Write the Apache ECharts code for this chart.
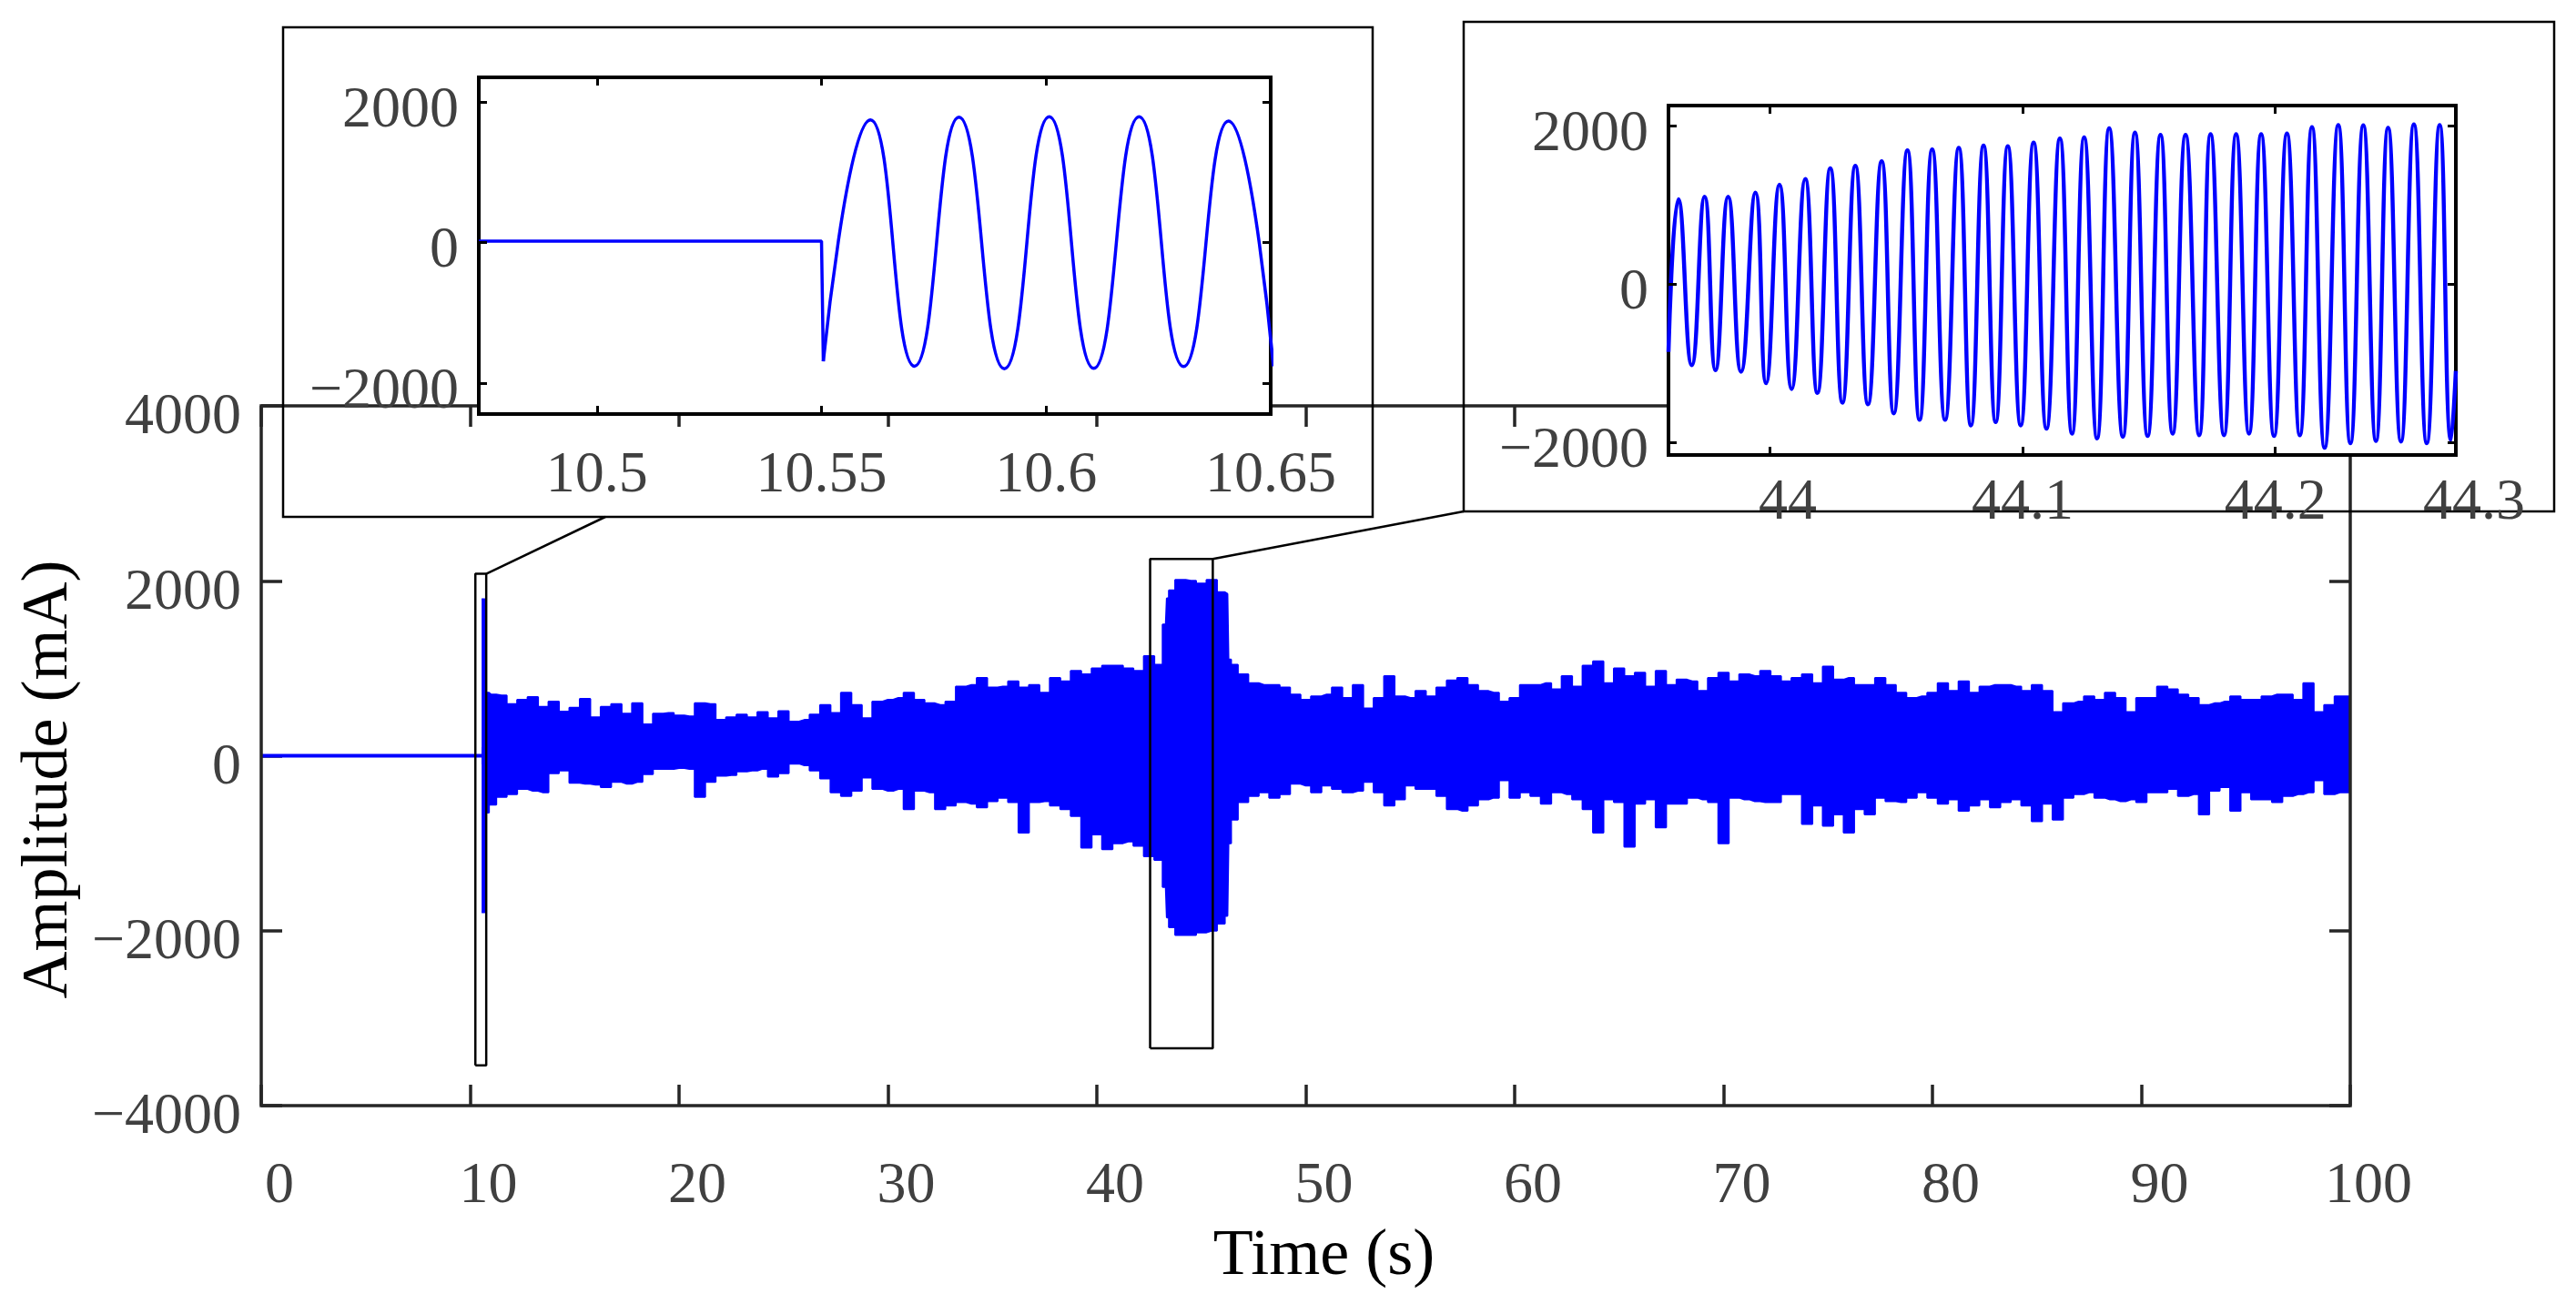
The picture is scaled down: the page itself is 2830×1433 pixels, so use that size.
<!DOCTYPE html>
<html>
<head>
<meta charset="utf-8">
<script src="https://cdn.jsdelivr.net/npm/echarts@6/dist/echarts.min.js"></script>
<style>
  html, body { margin: 0; padding: 0; background: #fff; }
  #chart { width: 2830px; height: 1433px; }
</style>
</head>
<body>
<div id="chart"></div>
<script>
// 主图：电流信号包络（按图读取，每0.5 s一个上/下包络值）
var envTime = [
  10.55, 10.70, 10.74, 10.8,
  11, 11.5, 12, 12.5, 13, 13.5, 14, 14.5, 15, 15.5,
  16, 16.5, 17, 17.5, 18, 18.5, 19, 19.5, 20, 20.5,
  21, 21.5, 22, 22.5, 23, 23.5, 24, 24.5, 25, 25.5,
  26, 26.5, 27, 27.5, 28, 28.5, 29, 29.5, 30, 30.5,
  31, 31.5, 32, 32.5, 33, 33.5, 34, 34.5, 35, 35.5,
  36, 36.5, 37, 37.5, 38, 38.5, 39, 39.5, 40, 40.5,
  41, 41.5, 42, 42.5, 43, 43.3, 43.4, 43.5, 44, 44.5,
  45, 45.5, 46, 46.25, 46.35, 46.5, 47, 47.5, 48, 48.5,
  49, 49.5, 50, 50.5, 51, 51.5, 52, 52.5, 53, 53.5,
  54, 54.5, 55, 55.5, 56, 56.5, 57, 57.5, 58, 58.5,
  59, 59.5, 60, 60.5, 61, 61.5, 62, 62.5, 63, 63.5,
  64, 64.5, 65, 65.5, 66, 66.5, 67, 67.5, 68, 68.5,
  69, 69.5, 70, 70.5, 71, 71.5, 72, 72.5, 73, 73.5,
  74, 74.5, 75, 75.5, 76, 76.5, 77, 77.5, 78, 78.5,
  79, 79.5, 80, 80.5, 81, 81.5, 82, 82.5, 83, 83.5,
  84, 84.5, 85, 85.5, 86, 86.5, 87, 87.5, 88, 88.5,
  89, 89.5, 90, 90.5, 91, 91.5, 92, 92.5, 93, 93.5,
  94, 94.5, 95, 95.5, 96, 96.5, 97, 97.5, 98, 98.5,
  99, 99.5, 100
];
var envUpper = [
  1790, 1790, 720, 720,
  700, 690, 590, 640, 670, 560, 620, 505, 550, 650,
  440, 560, 590, 480, 600, 360, 480, 490, 460, 450,
  600, 590, 410, 440, 470, 440, 500, 430, 510, 390,
  410, 470, 580, 490, 720, 580, 430, 620, 640, 660,
  720, 640, 600, 580, 620, 790, 810, 890, 780, 790,
  850, 780, 810, 720, 890, 850, 970, 930, 1000, 1030,
  1030, 1000, 970, 1140, 1040, 1500, 1800, 1890, 2010, 2000,
  1970, 2010, 1870, 1850, 1100, 1040, 930, 830, 810, 810,
  780, 700, 640, 680, 700, 780, 660, 810, 540, 660,
  910, 680, 660, 740, 680, 780, 860, 890, 810, 740,
  720, 620, 660, 810, 810, 830, 760, 910, 790, 1030,
  1080, 830, 1000, 910, 950, 790, 970, 810, 870, 850,
  740, 890, 950, 850, 930, 910, 970, 910, 850, 890,
  930, 830, 1020, 870, 890, 810, 810, 890, 810, 720,
  660, 680, 720, 830, 740, 850, 720, 790, 810, 810,
  790, 740, 810, 740, 500, 600, 620, 680, 640, 720,
  660, 500, 660, 660, 790, 760, 700, 660, 580, 600,
  620, 680, 640, 640, 680, 700, 700, 640, 830, 500,
  580, 680, 680
];
var envLower = [
  -1790, -1790, -650, -650,
  -560, -470, -440, -380, -400, -420, -200, -170, -310, -320,
  -330, -360, -300, -320, -300, -210, -150, -150, -140, -150,
  -470, -300, -230, -220, -180, -170, -150, -240, -200, -90,
  -110, -170, -260, -420, -460, -400, -250, -380, -400, -380,
  -610, -400, -420, -610, -570, -530, -550, -590, -520, -480,
  -530, -880, -530, -520, -570, -610, -690, -1050, -900, -1070,
  -1000, -980, -1030, -1150, -1190, -1500, -1850, -1960, -2050, -2050,
  -2020, -2000, -1920, -1830, -1000, -730, -530, -460, -420, -480,
  -440, -320, -340, -420, -340, -380, -420, -400, -300, -420,
  -570, -500, -340, -380, -380, -460, -610, -630, -570, -500,
  -480, -280, -480, -420, -460, -550, -420, -440, -500, -610,
  -880, -500, -530, -1040, -550, -500, -820, -550, -550, -480,
  -500, -530, -1000, -480, -500, -520, -530, -530, -440, -440,
  -780, -570, -800, -670, -880, -610, -670, -480, -520, -530,
  -480, -420, -480, -550, -500, -630, -570, -500, -590, -530,
  -500, -570, -750, -550, -730, -480, -440, -420, -480, -500,
  -520, -500, -530, -420, -420, -380, -460, -440, -670, -400,
  -360, -630, -420, -500, -500, -530, -460, -440, -420, -280,
  -440, -420, -420
];
// 故障前的平直段
var flatTime = [0, 10.55];
var flatValue = [0, 0];

// 主图中的两个放大框
var boxTime = [[10.25, 10.77], [42.55, 45.55]];
var boxValue = [[-3540, 2080], [-3345, 2250]];

// 放大图1 (10.47 ~ 10.65 s)
var zoomAFlatTime = [10.4737, 10.55, 10.5504];
var zoomAFlatValue = [20, 20, -1690];
var zoomAWaveTime = [10.5504, 10.5609, 10.5707, 10.5806, 10.5907, 10.6007,
  10.6106, 10.6207, 10.6306, 10.6406, 10.6506];
var zoomAWaveValue = [-1690, 1745, -1759, 1783, -1796, 1790,
  -1790, 1790, -1765, 1727, -1760];

// 放大图2 (43.96 ~ 44.27 s)，峰谷值
var zoomBTime = [43.9600,
  43.9639, 43.9692, 43.9743, 43.9786, 43.9836, 43.9887, 43.9944, 43.9986, 44.0039, 44.0087,
  44.0141, 44.0189, 44.0240, 44.0288, 44.0339, 44.0389, 44.0443, 44.0491, 44.0545, 44.0593,
  44.0643, 44.0694, 44.0748, 44.0796, 44.0846, 44.0894, 44.0942, 44.0993, 44.1044, 44.1095,
  44.1148, 44.1196, 44.1244, 44.1295, 44.1343, 44.1397, 44.1445, 44.1495, 44.1546, 44.1594,
  44.1645, 44.1699, 44.1744, 44.1797, 44.1845, 44.1896, 44.1944, 44.1995, 44.2046, 44.2097,
  44.2145, 44.2195, 44.2249, 44.2297, 44.2348, 44.2398, 44.2446, 44.2497, 44.2548, 44.2599,
  44.2650, 44.2695, 44.2714];
var zoomBValue = [-860,
  1067, -1026, 1100, -1089, 1100, -1109, 1149, -1253, 1252, -1326,
  1322, -1376, 1457, -1499, 1490, -1519, 1547, -1634, 1683, -1716,
  1695, -1716, 1716, -1786, 1745, -1745, 1735, -1786, 1782, -1828,
  1834, -1889, 1847, -1950, 1962, -1930, 1908, -1920, 1879, -1889,
  1879, -1910, 1887, -1910, 1887, -1889, 1887, -1920, 1896, -1910,
  1978, -2069, 2003, -2011, 2000, -1983, 1970, -1990, 2012, -2011,
  2003, -1971, -1100];

var zoomATicksX = [10.5, 10.55, 10.6, 10.65];
var zoomBTicksX = [44, 44.1, 44.2, 44.2714];
var zoomTicksY = [-2000, 0, 2000];

var FONT = "'Liberation Serif', 'Times New Roman', serif";
var BLUE = "#0000ff";
var AXIS = "#262626";
var LABEL = "#404040";

function pairs(xs, ys) {
  return xs.map(function (x, i) { return [x, ys[i]]; });
}
function minus(v) {
  return String(v).replace("-", "\u2212");
}

var myChart = echarts.init(document.getElementById("chart"), null, { renderer: "canvas" });

function insetX(grid, min, max, ticks, margin, fmt, pos) {
  var bottom = pos !== "top";
  return {
    type: "value", gridIndex: grid, min: min, max: max, position: pos || "bottom",
    axisLine: { show: false, onZero: false },
    splitLine: { show: false },
    axisTick: { show: true, inside: true, length: 9, customValues: ticks,
      lineStyle: { color: "#000", width: 3 } },
    axisLabel: { show: bottom, customValues: ticks, margin: margin, fontFamily: FONT,
      fontSize: 64, color: LABEL, formatter: fmt,
      rich: { r: { fontFamily: FONT, fontSize: 64, color: LABEL, padding: [0, 0, 0, 40] } } },
    zlevel: 1, z: 5
  };
}
function insetY(grid, min, max, pos) {
  var left = pos !== "right";
  return {
    type: "value", gridIndex: grid, min: min, max: max, position: pos || "left",
    axisLine: { show: false, onZero: false },
    splitLine: { show: false },
    axisTick: { show: true, inside: true, length: 9, customValues: zoomTicksY,
      lineStyle: { color: "#000", width: 3 } },
    axisLabel: { show: left, customValues: zoomTicksY, margin: 22, fontFamily: FONT,
      fontSize: 64, color: LABEL, verticalAlign: "top", lineHeight: 20, formatter: minus },
    zlevel: 1, z: 5
  };
}
function mainTicks() {
  return { inside: true, length: 23, lineStyle: { color: AXIS, width: 3.5 } };
}

var option = {
  backgroundColor: "#fff",
  animation: false,
  grid: [
    { left: 287, top: 446, width: 2295, height: 769, show: true,
      borderColor: AXIS, borderWidth: 3.5, backgroundColor: "transparent", z: 3 },
    { left: 526, top: 85, width: 870, height: 370, show: true,
      borderColor: "#000", borderWidth: 4, backgroundColor: "#fff", zlevel: 1 },
    { left: 1833, top: 116, width: 865, height: 384, show: true,
      borderColor: "#000", borderWidth: 4, backgroundColor: "#fff", zlevel: 1 }
  ],
  xAxis: [
    { type: "value", gridIndex: 0, min: 0, max: 100, interval: 10,
      axisLine: { show: false, onZero: false }, splitLine: { show: false },
      axisTick: mainTicks(),
      axisLabel: { margin: 57, fontFamily: FONT, fontSize: 64, color: LABEL, padding: [0, 0, 0, 40] },
      name: "Time (s)", nameLocation: "middle", nameGap: 130,
      nameTextStyle: { fontFamily: FONT, fontSize: 72, color: "#000", padding: [0, 0, 0, 40] } },
    { type: "value", gridIndex: 0, min: 0, max: 100, interval: 10, position: "top",
      axisLine: { show: false, onZero: false }, splitLine: { show: false },
      axisTick: mainTicks(), axisLabel: { show: false } },
    insetX(1, 10.4737, 10.65, zoomATicksX, 36, function (v) { return String(v); }),
    insetX(1, 10.4737, 10.65, zoomATicksX, 36, null, "top"),
    insetX(2, 43.96, 44.2714, zoomBTicksX, 21, function (v) {
      if (v > 44.25) return "{r|44.3}";
      if (v === 44) return "{r|44}";
      return String(v);
    }),
    insetX(2, 43.96, 44.2714, zoomBTicksX, 21, null, "top")
  ],
  yAxis: [
    { type: "value", gridIndex: 0, min: -4000, max: 4000, interval: 2000,
      axisLine: { show: false, onZero: false }, splitLine: { show: false },
      axisTick: mainTicks(),
      axisLabel: { margin: 22, fontFamily: FONT, fontSize: 64, color: LABEL,
        verticalAlign: "top", lineHeight: 27, formatter: minus },
      name: "Amplitude (mA)", nameLocation: "middle", nameGap: 177,
      nameTextStyle: { fontFamily: FONT, fontSize: 72, color: "#000", padding: [0, 52, 0, 0] } },
    { type: "value", gridIndex: 0, min: -4000, max: 4000, interval: 2000, position: "right",
      axisLine: { show: false, onZero: false }, splitLine: { show: false },
      axisTick: mainTicks(), axisLabel: { show: false } },
    insetY(1, -2440, 2350),
    insetY(1, -2440, 2350, "right"),
    insetY(2, -2160, 2250),
    insetY(2, -2160, 2250, "right")
  ],
  series: [
    { type: "line", xAxisIndex: 0, yAxisIndex: 0, data: pairs(flatTime, flatValue),
      symbol: "none", lineStyle: { color: BLUE, width: 4 }, z: 2 },
    { type: "line", xAxisIndex: 0, yAxisIndex: 0, data: pairs(envTime, envUpper),
      symbol: "none", step: "middle", lineStyle: { color: BLUE, width: 2 },
      areaStyle: { color: BLUE, opacity: 1, origin: -100 }, z: 2 },
    { type: "line", xAxisIndex: 0, yAxisIndex: 0, data: pairs(envTime, envLower),
      symbol: "none", step: "middle", lineStyle: { color: BLUE, width: 2 },
      areaStyle: { color: BLUE, opacity: 1, origin: 100 }, z: 2 }
  ].concat(boxTime.map(function (bt, i) {
    var bv = boxValue[i];
    return { type: "line", xAxisIndex: 0, yAxisIndex: 0, symbol: "none", clip: false,
      data: [[bt[0], bv[0]], [bt[1], bv[0]], [bt[1], bv[1]], [bt[0], bv[1]], [bt[0], bv[0]]],
      lineStyle: { color: "#000", width: 2.5 }, z: 4 };
  })).concat([
    { type: "line", xAxisIndex: 2, yAxisIndex: 2, data: pairs(zoomAFlatTime, zoomAFlatValue),
      symbol: "none", lineStyle: { color: BLUE, width: 3.5 }, zlevel: 1, z: 3 },
    { type: "line", xAxisIndex: 2, yAxisIndex: 2, data: pairs(zoomAWaveTime, zoomAWaveValue),
      symbol: "none", smooth: 0.5, lineStyle: { color: BLUE, width: 3.5 }, zlevel: 1, z: 3 },
    { type: "line", xAxisIndex: 4, yAxisIndex: 4, data: pairs(zoomBTime, zoomBValue),
      symbol: "none", smooth: 0.5, lineStyle: { color: BLUE, width: 4.5 }, zlevel: 1, z: 3 }
  ])
};
myChart.setOption(option);

// 放大框外框和连接线
var c1 = myChart.convertToPixel({ gridIndex: 0 }, [boxTime[0][1], boxValue[0][1]]);
var c2 = myChart.convertToPixel({ gridIndex: 0 }, [boxTime[1][1], boxValue[1][1]]);
myChart.setOption({
  graphic: [
    { type: "rect", shape: { x: 311, y: 30, width: 1197, height: 538 },
      style: { fill: null, stroke: "#000", lineWidth: 2.5 }, zlevel: 1 },
    { type: "rect", shape: { x: 1608, y: 24, width: 1198, height: 538 },
      style: { fill: null, stroke: "#000", lineWidth: 2.5 }, zlevel: 1 },
    { type: "line", shape: { x1: c1[0], y1: c1[1], x2: 665, y2: 568 },
      style: { stroke: "#000", lineWidth: 2.5 }, zlevel: 1 },
    { type: "line", shape: { x1: c2[0], y1: c2[1], x2: 1608, y2: 562 },
      style: { stroke: "#000", lineWidth: 2.5 }, zlevel: 1 }
  ]
});
</script>
</body>
</html>
